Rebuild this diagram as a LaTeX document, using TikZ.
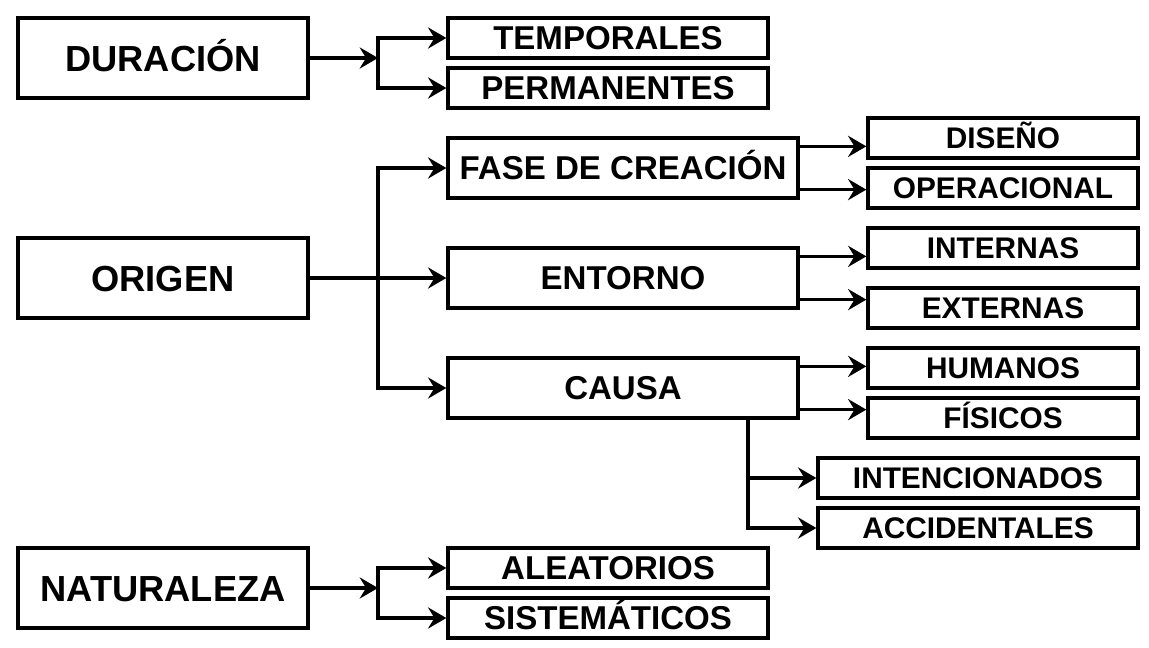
\documentclass[tikz,border=0pt]{standalone}
\usepackage{fontspec}
\setmainfont{Liberation Sans}
\usetikzlibrary{arrows.meta,calc}
\begin{document}
\begin{tikzpicture}[x=0.025cm,y=-0.025cm,
  line width=2.3pt,
  boxbase/.style={draw,line width=2.3pt,inner sep=0pt,text depth=0pt},
  mainbox/.style={boxbase,minimum width=7.25cm,minimum height=2cm,text height=18.5pt,font=\fontsize{25.8}{30}\selectfont\bfseries},
  midbox/.style={boxbase,minimum width=8cm,minimum height=1cm,text height=16.8pt,font=\fontsize{23.5}{28}\selectfont\bfseries},
  widebox/.style={boxbase,minimum width=8.75cm,minimum height=1.5cm,text height=16.8pt,font=\fontsize{23.5}{28}\selectfont\bfseries},
  rightbox/.style={boxbase,minimum width=6.75cm,minimum height=1cm,text height=15.2pt,font=\fontsize{21.2}{25}\selectfont\bfseries},
  longbox/.style={boxbase,minimum width=8cm,minimum height=1cm,text height=15.2pt,font=\fontsize{21.2}{25}\selectfont\bfseries},
  arr/.style={line width=2.3pt,-{Stealth[length=13pt,width=15pt,inset=4.5pt]}},
  plain/.style={line width=2.3pt}
]
\useasboundingbox (0,0) rectangle (1149,648);
% main boxes
\node[mainbox] (dur) at (163,58) {DURACIÓN};
\node[mainbox] (ori) at (163,278) {ORIGEN};
\node[mainbox] (nat) at (163,588) {NATURALEZA};
% middle
\node[midbox] (temp) at (608,38) {TEMPORALES};
\node[midbox] (perm) at (608,88) {PERMANENTES};
\node[midbox] (alea) at (608,568) {ALEATORIOS};
\node[midbox] (sist) at (608,618) {SISTEMÁTICOS};
\node[widebox] (fase) at (623,168) {FASE DE CREACIÓN};
\node[widebox] (ent) at (623,278) {ENTORNO};
\node[widebox] (cau) at (623,388) {CAUSA};
% right
\node[rightbox] (dis) at (1003,138) {DISEÑO};
\node[rightbox] (ope) at (1003,188) {OPERACIONAL};
\node[rightbox] (int) at (1003,248) {INTERNAS};
\node[rightbox] (ext) at (1003,308) {EXTERNAS};
\node[rightbox] (hum) at (1003,368) {HUMANOS};
\node[rightbox] (fis) at (1003,418) {FÍSICOS};
\node[longbox] (inten) at (978,478) {INTENCIONADOS};
\node[longbox] (acc) at (978,528) {ACCIDENTALES};
% junctions
\coordinate (jd) at (378,58);
\coordinate (jo) at (378,278);
\coordinate (jn) at (378,588);
\coordinate (cb) at ($(cau.south)+(125,0)$);
% connectors
\draw[arr] (dur.east) -- (jd);
\draw[arr] (jd) |- (temp.west);
\draw[arr] (jd) |- (perm.west);
\draw[plain] (ori.east) -- (jo);
\draw[arr] (jo) |- (fase.west);
\draw[arr] (jo) -- (ent.west);
\draw[arr] (jo) |- (cau.west);
\draw[arr] (nat.east) -- (jn);
\draw[arr] (jn) |- (alea.west);
\draw[arr] (jn) |- (sist.west);
\draw[arr] ($(fase.north east)+(0,10)$) -- ($(dis.west|-fase.north east)+(0,10)$);
\draw[arr] ($(fase.south east)+(0,-10)$) -- ($(ope.west|-fase.south east)+(0,-10)$);
\draw[arr] ($(ent.north east)+(0,10)$) -- ($(int.west|-ent.north east)+(0,10)$);
\draw[arr] ($(ent.south east)+(0,-10)$) -- ($(ext.west|-ent.south east)+(0,-10)$);
\draw[arr] ($(cau.north east)+(0,10)$) -- ($(hum.west|-cau.north east)+(0,10)$);
\draw[arr] ($(cau.south east)+(0,-10)$) -- ($(fis.west|-cau.south east)+(0,-10)$);
\draw[arr] (cb) |- (inten.west);
\draw[arr] (cb) |- (acc.west);
\end{tikzpicture}
\end{document}
